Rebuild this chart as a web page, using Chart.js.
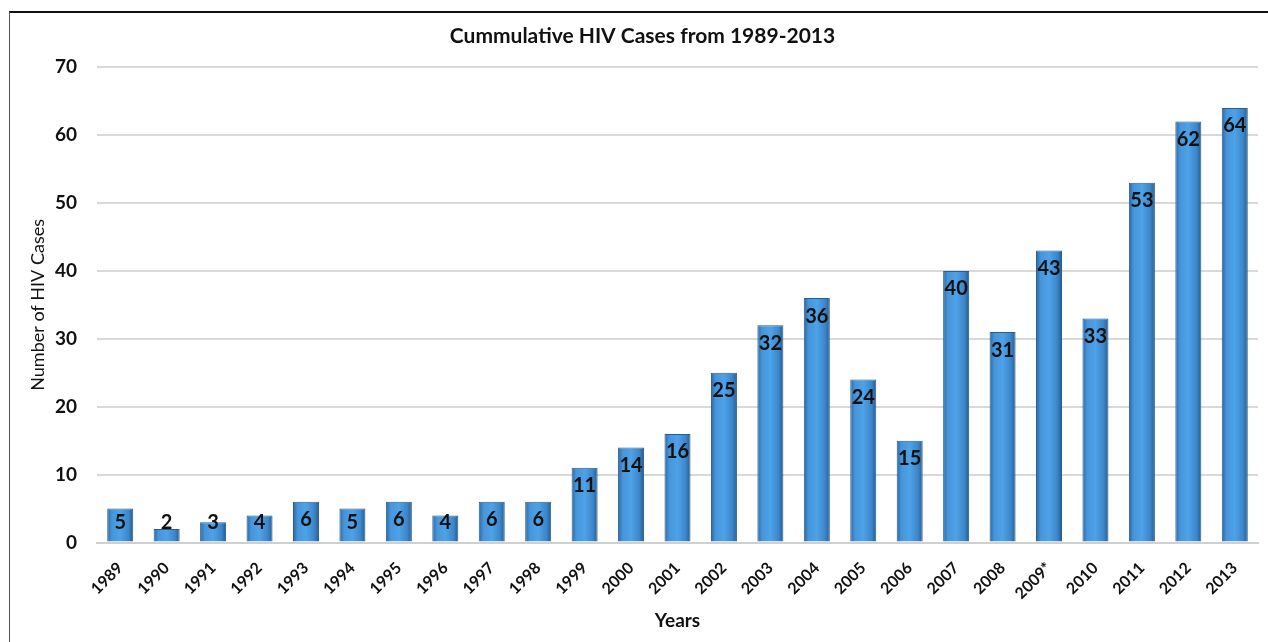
<!DOCTYPE html>
<html>
<head>
<meta charset="utf-8">
<script src="https://cdn.jsdelivr.net/npm/chart.js@4.4.1/dist/chart.umd.min.js"></script>
<style>
  html, body { margin: 0; padding: 0; background: #fff; overflow: hidden; }
  #frame { position: absolute; left: 9px; top: 11px; width: 1300px; height: 700px;
           border-top: 2px solid #111; border-left: 1px solid #555; }
  #wrap { position: absolute; left: 0; top: 0; width: 1268px; height: 642px; }
</style>
</head>
<body>
<div id="frame"></div>
<div id="wrap"><canvas id="chart-hiv"></canvas></div>
<script>
// ===== DATA =====
const years = ['1989', '1990', '1991', '1992', '1993', '1994', '1995', '1996', '1997', '1998',
               '1999', '2000', '2001', '2002', '2003', '2004', '2005', '2006', '2007', '2008',
               '2009*', '2010', '2011', '2012', '2013'];
const hivCases = [5, 2, 3, 4, 6, 5, 6, 4, 6, 6,
                  11, 14, 16, 25, 32, 36, 24, 15, 40, 31,
                  43, 33, 53, 62, 64];
const yTicks = [0, 10, 20, 30, 40, 50, 60, 70];

const FONT = 'Lato, "Open Sans", sans-serif';
const BAR_PCT = 0.56;

// horizontal shading per bar, built from the x scale
const barFill = (ctx) => {
  const chart = ctx.chart;
  const xs = chart.scales.x;
  if (!xs || xs.width === undefined || ctx.dataIndex === undefined) return '#3f8fd6';
  const cx = xs.getPixelForValue(ctx.dataIndex);
  const half = (xs.width / years.length) * BAR_PCT / 2;
  const g = chart.ctx.createLinearGradient(cx - half, 0, cx + half, 0);
  g.addColorStop(0, '#2a67a3');
  g.addColorStop(0.18, '#4695da');
  g.addColorStop(0.5, '#4ea2e8');
  g.addColorStop(0.82, '#3c86c9');
  g.addColorStop(1, '#245b92');
  return g;
};

// value labels inside bar tops
const valueLabels = {
  id: 'valueLabels',
  afterDatasetsDraw(chart) {
    const { ctx } = chart;
    const meta = chart.getDatasetMeta(0);
    ctx.save();
    ctx.font = 'bold 20px ' + FONT;
    ctx.fillStyle = '#111';
    ctx.textAlign = 'center';
    ctx.textBaseline = 'middle';
    meta.data.forEach((bar, i) => {
      const y = Math.min(bar.y + 18, bar.base - 19);
      ctx.fillText(String(hivCases[i]), bar.x, y);
    });
    ctx.restore();
  }
};

new Chart(document.getElementById('chart-hiv'), {
  type: 'bar',
  data: {
    labels: years,
    datasets: [{
      label: 'HIV Cases',
      data: hivCases,
      backgroundColor: barFill,
      borderColor: '#2a5d8c',
      borderWidth: 1,
      barPercentage: BAR_PCT,
      categoryPercentage: 1
    }]
  },
  options: {
    responsive: true,
    maintainAspectRatio: false,
    animation: false,
    layout: { padding: { left: 27, right: 10, top: 24, bottom: 10 } },
    plugins: {
      legend: { display: false },
      tooltip: { enabled: false },
      title: {
        display: true,
        text: 'Cummulative HIV Cases from 1989-2013',
        color: '#111',
        font: { family: FONT, size: 21, weight: 'bold' },
        padding: { top: 0, bottom: 18 }
      }
    },
    scales: {
      x: {
        grid: { display: false, drawTicks: false },
        border: { color: '#d0d0d0', width: 2 },
        ticks: {
          color: '#111',
          font: { family: FONT, size: 16, weight: 'bold' },
          maxRotation: 45, minRotation: 45,
          padding: 16, autoSkip: false
        },
        title: {
          display: true, text: 'Years', color: '#111',
          font: { family: FONT, size: 19, weight: 'bold' },
          padding: { top: -10, bottom: 0 }
        }
      },
      y: {
        min: 0, max: 70,
        afterBuildTicks: (axis) => { axis.ticks = yTicks.map(v => ({ value: v })); },
        afterFit: (axis) => { axis.width = 70; },
        grid: { color: '#d9d9d9', lineWidth: 2, drawTicks: false },
        border: { display: false },
        ticks: {
          color: '#111',
          font: { family: FONT, size: 19, weight: 'bold' },
          padding: 20
        },
        title: {
          display: true, text: 'Number of HIV Cases', color: '#111',
          font: { family: FONT, size: 18 },
          padding: { top: 0, bottom: 4 }
        }
      }
    }
  },
  plugins: [valueLabels]
});
</script>
</body>
</html>
